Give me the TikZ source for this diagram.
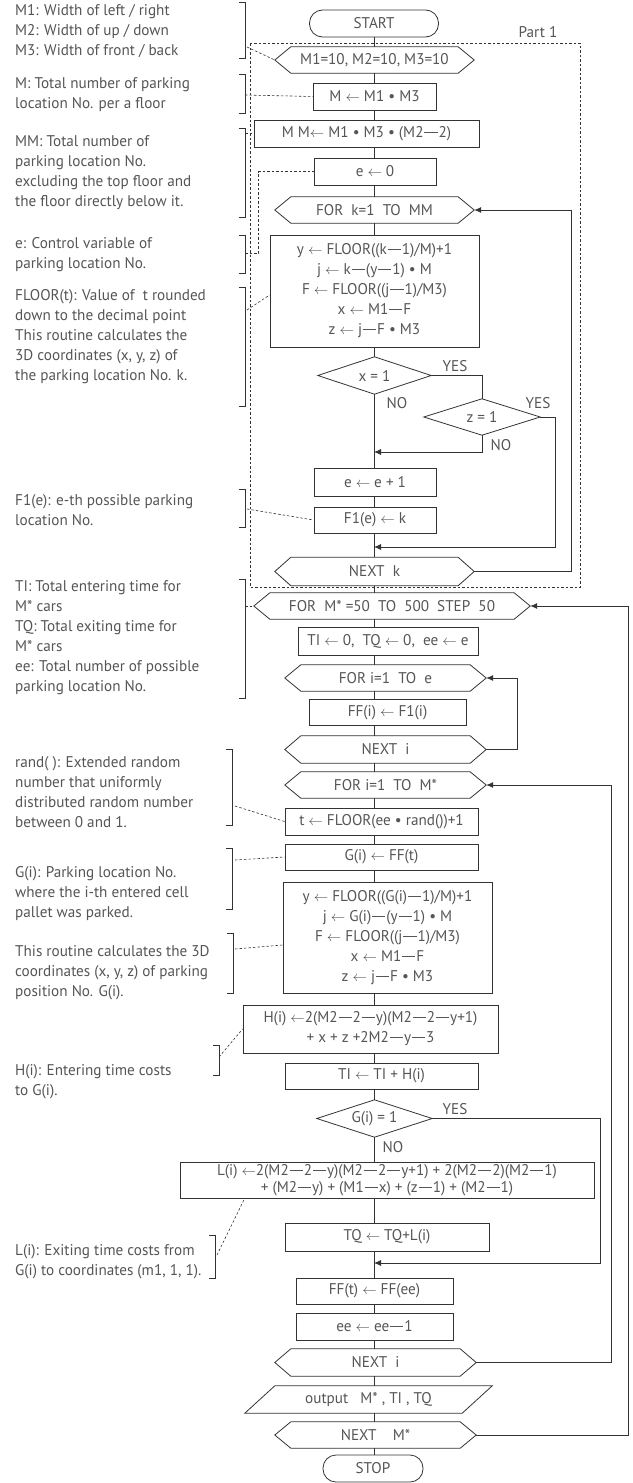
\documentclass[tikz,border=0pt]{standalone}
\usepackage{fontspec}
\setmainfont{PT Sans}[FakeStretch=0.98]
\usetikzlibrary{arrows.meta}
\definecolor{linec}{HTML}{333333}
\definecolor{txtc}{HTML}{555555}
\newcommand{\larr}{\ensuremath{\leftarrow}}
\newcommand{\dsh}{\hspace{0.06em}\rule[0.3em]{0.85em}{0.065em}\hspace{0.06em}}
\newcommand{\ff}{\fontsize{15.5}{20}\selectfont}
% outlines drawn around plain (undrawn) nodes
\newcommand{\hexframe}[1]{\draw[flow] (#1.west) -- ([xshift=16pt]#1.north west) -- ([xshift=-16pt]#1.north east) -- (#1.east) -- ([xshift=-16pt]#1.south east) -- ([xshift=16pt]#1.south west) -- cycle;}
\newcommand{\diamframe}[1]{\draw[flow] (#1.west) -- (#1.north) -- (#1.east) -- (#1.south) -- cycle;}
\newcommand{\paraframe}[1]{\draw[flow] ([xshift=30pt]#1.north west) -- (#1.north east) -- ([xshift=-30pt]#1.south east) -- (#1.south west) -- cycle;}
\newcommand{\bracketat}[3]{\draw[brk] (#1-6,#2) -- (#1,#2) -- (#1,#3) -- (#1-6,#3);}
\begin{document}
\begin{tikzpicture}[x=1pt,y=-1pt,
  flow/.style={draw=linec, line width=0.8pt},
  brk/.style={draw=linec, line width=0.7pt},
  arr/.style={-{Latex[length=7pt,width=6pt]}},
  dashlink/.style={draw=linec, line width=0.6pt, dash pattern=on 2.5pt off 2pt},
  plain/.style={inner sep=0pt, align=center, text=txtc, font=\ff},
  box/.style={plain, draw=linec, line width=0.8pt, rectangle},
  term/.style={box, rounded corners=13pt},
  note/.style={inner sep=0pt, align=left, anchor=west, text=txtc, font=\ff},
  lbl/.style={inner sep=0pt, text=txtc, font=\ff},
  sz/.style n args={2}{minimum width=#1pt, minimum height=#2pt}]
\useasboundingbox (0,0) rectangle (632,1483);

% ---- flow nodes ----
\node[term, sz={129}{27}] (start) at (374,23.5) {START};
\node[lbl] (part) at (538,32) {Part 1};
\node[plain, sz={199}{26}] (init) at (374.5,60) {M1=10, M2=10, M3=10};
\node[box, sz={123}{27}] (mbox) at (374.5,96.5) {M \larr\ M1 • M3};
\node[box, sz={225}{27}] (mm) at (366.5,133.5) {M M\larr\ M1 • M3 • (M2\dsh2)};
\node[box, sz={122}{27}] (e0) at (375,171.5) {e \larr\ 0};
\node[plain, sz={199}{26}] (fork) at (374.5,210) {FOR~~k=1~~TO~~MM};
\node[box, sz={209}{112}] (calc1) at (374.5,291) {y \larr\ FLOOR((k\dsh1)/M)+1\\ j \larr\ k\dsh(y\dsh1) • M\\ F \larr\ FLOOR((j\dsh1)/M3)\\ x \larr\ M1\dsh F\\ z \larr\ j\dsh F • M3};
\node[plain, sz={113}{37}] (dx) at (374.5,375.5) {x = 1};
\node[plain, sz={116}{36}] (dz) at (482,417) {z = 1};
\node[box, sz={122}{28}] (ee1) at (375,482) {e \larr\ e + 1};
\node[box, sz={122}{26}] (f1) at (375,520) {F1(e) \larr\ k};
\node[plain, sz={199}{28}] (nextk) at (374.5,571.5) {NEXT~~k};
\node[plain, sz={276}{26}] (formstar) at (392,606) {FOR~~M* =50~~TO~~500~~STEP~~50};
\node[box, sz={180}{28}] (ti) at (388,641) {TI \larr\ 0,~~TQ \larr\ 0,~~ee \larr\ e};
\node[plain, sz={201}{26}] (forie) at (385.5,678) {FOR i=1~~TO~~e};
\node[box, sz={157}{26}] (ffi) at (387.5,712.5) {FF(i) \larr\ F1(i)};
\node[plain, sz={201}{27}] (nexti) at (385.5,749.5) {NEXT~~i};
\node[plain, sz={201}{26}] (forim) at (385.5,785) {FOR i=1~~TO~~M*};
\node[box, sz={193}{27}] (tb) at (381.5,821.5) {t \larr\ FLOOR(ee • rand())+1};
\node[box, sz={193}{26}] (gb) at (381.5,857) {G(i) \larr\ FF(t)};
\node[box, sz={209}{111}] (calc2) at (387.5,937.5) {y \larr\ FLOOR((G(i)\dsh1)/M)+1\\ j \larr\ G(i)\dsh(y\dsh1) • M\\ F \larr\ FLOOR((j\dsh1)/M3)\\ x \larr\ M1\dsh F\\ z \larr\ j\dsh F • M3};
\node[box, sz={255}{48}] (hb) at (370.5,1029) {H(i) \larr2(M2\dsh2\dsh y)(M2\dsh2\dsh y+1)\\ + x + z +2M2\dsh y\dsh3};
\node[box, sz={193}{26}] (tiadd) at (381.5,1076) {TI \larr\ TI + H(i)};
\node[plain, sz={115}{37}] (dg) at (374.5,1118.5) {G(i) = 1};
\node[box, sz={414}{36}] (lb) at (387,1180) {L(i) \larr2(M2\dsh2\dsh y)(M2\dsh2\dsh y+1) + 2(M2\dsh2)(M2\dsh1)\\[-3pt] + (M2\dsh y) + (M1\dsh x) + (z\dsh1) + (M2\dsh1)};
\node[box, sz={204}{28}] (tq) at (387,1237) {TQ \larr\ TQ+L(i)};
\node[box, sz={157}{26}] (fft) at (374.5,1291) {FF(t) \larr\ FF(ee)};
\node[box, sz={157}{27}] (eem) at (374.5,1326.5) {ee \larr\ ee\dsh1};
\node[plain, sz={201}{27}] (nexti2) at (375.5,1362.5) {NEXT~~i};
\node[plain, sz={247}{27}] (out) at (368.5,1399.5) {output~~~M* , TI , TQ};
\node[plain, sz={201}{26}] (nextm) at (375.5,1435) {NEXT~~~~M*};
\node[term, sz={100}{27}] (stop) at (373,1468.5) {STOP};

% ---- outlines of the special shapes ----
\foreach \h in {init,fork,nextk,formstar,forie,nexti,forim,nexti2,nextm} {\hexframe{\h}}
\foreach \d in {dx,dz,dg} {\diamframe{\d}}
\paraframe{out}

% ---- main vertical flow ----
\coordinate (ax) at (374,0);
\foreach \a/\b in {start/init,init/mbox,mbox/mm,mm/e0,e0/fork,fork/calc1,calc1/dx,dx/ee1,ee1/f1,f1/nextk,nextk/formstar,formstar/ti,ti/forie,forie/ffi,ffi/nexti,nexti/forim,forim/tb,tb/gb,gb/calc2,calc2/hb,hb/tiadd,tiadd/dg,dg/lb,lb/tq,tq/fft,fft/eem,eem/nexti2,nexti2/out,out/nextm,nextm/stop}
  {\draw[flow] (\a.south -| ax) -- (\b.north -| ax);}

% ---- branches and loops ----
\coordinate (m1) at (374,452);
\coordinate (m2) at (374,547);
\coordinate (m3) at (374,1263);
\draw[flow] (dx.east) -| (dz.north);
\draw[flow,arr] (dz.south) |- (m1);
\draw[flow,arr] (dz.east) -- ++(15,0) |- (m2);
\draw[flow,arr] (nextk.east) -- ++(97,0) |- (fork.east);
\draw[flow,arr] (nexti.east) -- ++(31,0) |- (forie.east);
\draw[flow,arr] (dg.east) -- ++(168,0) |- (m3);
\draw[flow,arr] (nexti2.east) -- ++(135.5,0) |- (forim.east);
\draw[flow,arr] (nextm.east) -- ++(152.5,0) |- (formstar.east);

\node[lbl] (yes1) at (455,366) {YES};
\node[lbl] (no1) at (397,403) {NO};
\node[lbl] (yes2) at (538,403) {YES};
\node[lbl] (no2) at (501,445) {NO};
\node[lbl] (yes3) at (455,1109) {YES};
\node[lbl] (no3) at (393,1147) {NO};

% ---- Part 1 frame ----
\draw[dashlink, line width=0.7pt] (250,43) rectangle (580,587);

% ---- notes with brackets ----
\node[note] (n1) at (15,31) {M1: Width of left / right\\M2: Width of up / down\\M3: Width of front / back};
\node[note] (n2) at (15,94.5) {M: Total number of parking\\location No. per a floor};
\node[note] (n3) at (15,173) {MM: Total number of\\parking location No.\\excluding the top floor and\\the floor directly below it.};
\node[note] (n4) at (15,255) {e: Control variable of\\parking location No.};
\node[note] (n5) at (15,337) {FLOOR(t): Value of~ t rounded\\down to the decimal point\\This routine calculates the\\3D coordinates (x, y, z) of\\the parking location No. k.};
\node[note] (n6) at (15,510) {F1(e): e-th possible parking\\location No.};
\node[note] (n7) at (15,638) {TI: Total entering time for\\M* cars\\TQ: Total exiting time for\\M* cars\\ee: Total number of possible\\parking location No.};
\node[note] (n8) at (15,792) {rand( ): Extended random\\number that uniformly\\distributed random number\\between 0 and 1.};
\node[note] (n9) at (15,894) {G(i): Parking location No.\\where the i-th entered cell\\pallet was parked.};
\node[note] (n10) at (15,973) {This routine calculates the 3D\\coordinates (x, y, z) of parking\\position No. G(i).};
\node[note] (n11) at (15,1082) {H(i): Entering time costs\\to G(i).};
\node[note] (n12) at (15,1262) {L(i): Exiting time costs from\\G(i) to coordinates (m1, 1, 1).};

\bracketat{245}{2}{58}
\bracketat{245}{74}{113}
\bracketat{245}{128}{217}
\bracketat{245}{235}{273}
\bracketat{245}{287}{406}
\bracketat{245}{489}{527}
\bracketat{245}{579}{698}
\bracketat{232}{749}{825}
\bracketat{232}{848}{909}
\bracketat{233}{933}{993}
\bracketat{219}{1045}{1075}
\bracketat{215}{1235}{1278}

\coordinate (b1) at (247,47);
\coordinate (b2) at (245,95);
\coordinate (b3) at (245,133.5);
\coordinate (b4) at (245,253);
\coordinate (b5) at (247,310);
\coordinate (b6) at (247,509);
\coordinate (b7) at (245,606);
\coordinate (b8) at (235,806);
\coordinate (b9) at (235,860);
\coordinate (b10) at (235,949);
\coordinate (b11) at (219,1057);
\coordinate (b12) at (217,1255);
\draw[dashlink] (b1) -- (init.west);
\draw[dashlink] (b2) -- (mbox.west);
\draw[dashlink] (b3) -- (mm.west);
\draw[dashlink] (b4) -| ([xshift=-55pt]e0.west) -- (e0.west);
\draw[dashlink] (b5) -- ([yshift=-4pt]calc1.west);
\draw[dashlink] (b6) -- (f1.west);
\draw[dashlink] (b7) -- (formstar.west);
\draw[dashlink] (b8) -- (tb.west);
\draw[dashlink] (b9) -- (gb.west);
\draw[dashlink] (b10) -- ([yshift=-7.5pt]calc2.west);
\draw[dashlink] (b11) -- (hb.west);
\draw[dashlink] (b12) -- ([xshift=65pt]lb.south west);
\end{tikzpicture}
\end{document}
